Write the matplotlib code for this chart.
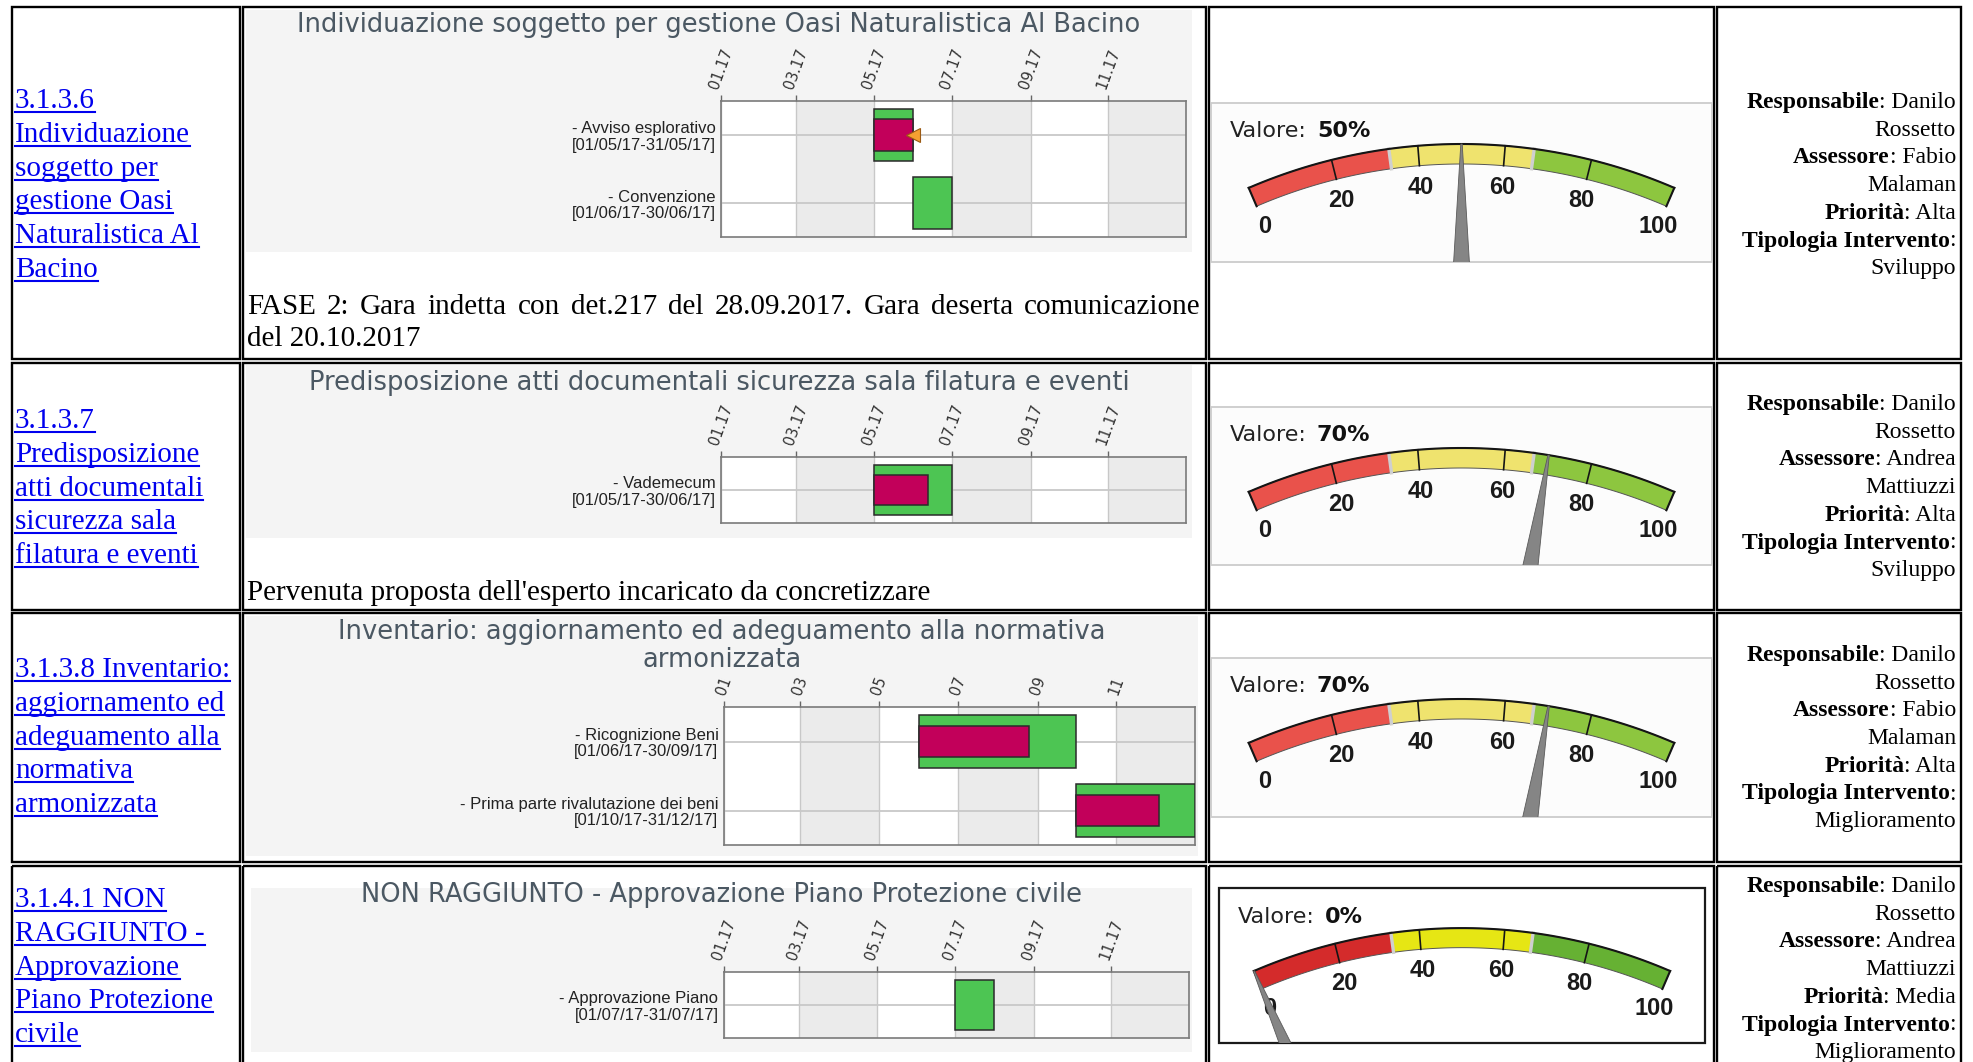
import datetime as dt
import matplotlib
matplotlib.use("Agg")
import matplotlib.pyplot as plt
import matplotlib.dates as mdates
from matplotlib.patches import Rectangle, Polygon
import numpy as np

# ---------------- data ----------------
link_lines = [
    ["3.1.3.6", "Individuazione", "soggetto per", "gestione Oasi", "Naturalistica Al", "Bacino"],
    ["3.1.3.7", "Predisposizione", "atti documentali", "sicurezza sala", "filatura e eventi"],
    ["3.1.3.8 Inventario:", "aggiornamento ed", "adeguamento alla", "normativa", "armonizzata"],
    ["3.1.4.1 NON", "RAGGIUNTO -", "Approvazione", "Piano Protezione", "civile"],
]
gantt_titles = [
    ["Individuazione soggetto per gestione Oasi Naturalistica Al Bacino"],
    ["Predisposizione atti documentali sicurezza sala filatura e eventi"],
    ["Inventario: aggiornamento ed adeguamento alla normativa", "armonizzata"],
    ["NON RAGGIUNTO - Approvazione Piano Protezione civile"],
]
task_names = [["Avviso esplorativo", "Convenzione"], ["Vademecum"],
              ["Ricognizione Beni", "Prima parte rivalutazione dei beni"], ["Approvazione Piano"]]
task_start = [["01/05/17", "01/06/17"], ["01/05/17"], ["01/06/17", "01/10/17"], ["01/07/17"]]
task_end = [["31/05/17", "30/06/17"], ["30/06/17"], ["30/09/17", "31/12/17"], ["31/07/17"]]
task_progress = [[100, 0], [70], [70, 70], [0]]
month_ticks = [1, 3, 5, 7, 9, 11]
tick_labels = [
    ["01.17", "03.17", "05.17", "07.17", "09.17", "11.17"],
    ["01.17", "03.17", "05.17", "07.17", "09.17", "11.17"],
    ["01", "03", "05", "07", "09", "11"],
    ["01.17", "03.17", "05.17", "07.17", "09.17", "11.17"],
]
notes = [
    ["FASE 2: Gara indetta con det.217 del 28.09.2017. Gara deserta comunicazione", "del 20.10.2017"],
    ["Pervenuta proposta dell'esperto incaricato da concretizzare"],
    [],
    [],
]
gauge_values = [50, 70, 70, 0]
gauge_ticks = [0, 20, 40, 60, 80, 100]
info = [
    [("Responsabile", ": Danilo"), ("", "Rossetto"), ("Assessore", ": Fabio"), ("", "Malaman"),
     ("Priorità", ": Alta"), ("Tipologia Intervento", ":"), ("", "Sviluppo")],
    [("Responsabile", ": Danilo"), ("", "Rossetto"), ("Assessore", ": Andrea"), ("", "Mattiuzzi"),
     ("Priorità", ": Alta"), ("Tipologia Intervento", ":"), ("", "Sviluppo")],
    [("Responsabile", ": Danilo"), ("", "Rossetto"), ("Assessore", ": Fabio"), ("", "Malaman"),
     ("Priorità", ": Alta"), ("Tipologia Intervento", ":"), ("", "Miglioramento")],
    [("Responsabile", ": Danilo"), ("", "Rossetto"), ("Assessore", ": Andrea"), ("", "Mattiuzzi"),
     ("Priorità", ": Media"), ("Tipologia Intervento", ":"), ("", "Miglioramento")],
]

# ---------------- layout (pixels) ----------------
W, H = 1973, 1062
cell_cols = [(12, 240), (243, 1206), (1209, 1714), (1717, 1961)]
cell_rows = [(7, 359), (363, 610), (613, 862), (866, 1075)]
gantt_panels = [(246, 10, 1192, 252), (246, 365, 1192, 538), (246, 616, 1198, 856), (251, 888, 1192, 1052)]
gantt_plots = [(721, 101, 1186, 237), (721, 457, 1186, 523), (724, 707, 1195, 845), (724, 972, 1189, 1038)]
title_y = [[25], [383], [632, 660], [895]]
gauge_panels = [(1211, 103, 1712, 262), (1211, 407, 1712, 565), (1211, 658, 1712, 817), (1219, 888, 1705, 1043)]
link_base = [108, 428, 677, 907]
info_base = [108, 410, 661, 892]
note_base = [[314, 346], [600], [], []]

SERIF = "Liberation Serif"
SANS = "Liberation Sans"
GREEN, MAGENTA = "#4dc553", "#c2005a"
LIGHT = ["#e9524b", "#efe36e", "#8dc63f"]
STRONG = ["#d42b2b", "#e6e614", "#66b133"]

fig = plt.figure(figsize=(W / 100, H / 100), dpi=100)
bg = fig.add_axes([0, 0, 1, 1])
bg.set_xlim(0, W)
bg.set_ylim(H, 0)
bg.axis("off")
renderer = fig.canvas.get_renderer()


def box(x0, y0, x1, y1):
    return [x0 / W, 1 - y1 / H, (x1 - x0) / W, (y1 - y0) / H]


def width_of(t):
    return t.get_window_extent(renderer).width


def to_date(s):
    d, m, y = s.split("/")
    return mdates.date2num(dt.date(2000 + int(y), int(m), int(d)))


# table cells
for (ry0, ry1) in cell_rows:
    for (cx0, cx1) in cell_cols:
        bg.add_patch(Rectangle((cx0, ry0), cx1 - cx0, ry1 - ry0, fill=False,
                               edgecolor="black", lw=1.7, clip_on=False))

# first column: links
for i, lines in enumerate(link_lines):
    for k, line in enumerate(lines):
        y = link_base[i] + k * 33.8
        t = bg.text(15, y, line, family=SERIF, fontsize=21, color="#0000ee", va="baseline")
        bg.plot([15, 15 + width_of(t)], [y + 4, y + 4], color="#0000ee", lw=1.5)

# last column: info
for i, lines in enumerate(info):
    for k, (bold, normal) in enumerate(lines):
        y = info_base[i] + k * 27.7
        t = bg.text(1956, y, normal, family=SERIF, fontsize=17, ha="right", va="baseline")
        if bold:
            bg.text(1956 - width_of(t), y, bold, family=SERIF, fontsize=17, weight="bold",
                    ha="right", va="baseline")

# notes under gantt
for i, lines in enumerate(notes):
    for k, line in enumerate(lines):
        y = note_base[i][k]
        if k < len(lines) - 1:
            words = line.split()
            ts = [bg.text(0, y, wd, family=SERIF, fontsize=21, va="baseline") for wd in words]
            ws = [width_of(t) for t in ts]
            gap = (1201 - 247 - sum(ws)) / (len(words) - 1)
            x = 247
            for t, wv in zip(ts, ws):
                t.set_x(x)
                x += wv + gap
        else:
            bg.text(247, y, line, family=SERIF, fontsize=21, va="baseline")

# gantt charts
probe = bg.text(0, -100, gantt_titles[0][0], fontsize=16)
title_size = 16 * 845 / width_of(probe)
probe.remove()

for i in range(4):
    px0, py0, px1, py1 = gantt_panels[i]
    bg.add_patch(Rectangle((px0, py0), px1 - px0, py1 - py0, facecolor="#f4f4f4", edgecolor="none"))
    for line, ty in zip(gantt_titles[i], title_y[i]):
        bg.text((px0 + px1) / 2, ty, line, fontsize=title_size, color="#4b5863",
                ha="center", va="center")

    ax = fig.add_axes(box(*gantt_plots[i]))
    ax.set_facecolor("white")
    ax.set_xlim(mdates.date2num(dt.date(2017, 1, 1)), mdates.date2num(dt.date(2018, 1, 1)))
    n = len(task_names[i])
    ax.set_ylim(n - 0.5, -0.5)
    for a, b in [(3, 5), (7, 9), (11, 13)]:
        d0 = mdates.date2num(dt.date(2017, a, 1))
        d1 = mdates.date2num(dt.date(2017 + (b - 1) // 12, (b - 1) % 12 + 1, 1))
        ax.axvspan(d0, d1, color="#ebebeb", zorder=0, lw=0)
    ax.set_xticks([mdates.date2num(dt.date(2017, m, 1)) for m in month_ticks])
    ax.set_xticklabels(tick_labels[i], rotation=70, fontsize=10.5, color="#333333")
    ax.xaxis.tick_top()
    ax.tick_params(axis="x", length=4.5, width=1, color="#666666", pad=3)
    ax.grid(axis="x", color="#c8c8c8", lw=1, zorder=1)
    ax.set_axisbelow(True)
    for y in range(n):
        ax.axhline(y, color="#c8c8c8", lw=1.3, zorder=1)
    labels = [f"- {nm}\n[{s}-{e}]" for nm, s, e in zip(task_names[i], task_start[i], task_end[i])]
    ax.set_yticks(range(n))
    ax.set_yticklabels(labels, family=SANS, fontsize=12, color="#222222", linespacing=1.1)
    for t in ax.get_yticklabels():
        t.set_multialignment("right")
    ax.tick_params(axis="y", length=0, pad=4)
    for sp in ax.spines.values():
        sp.set_color("#7a7a7a")
        sp.set_linewidth(1.2)
    for y, (s, e, p) in enumerate(zip(task_start[i], task_end[i], task_progress[i])):
        left = to_date(s)
        dur = to_date(e) + 1 - left
        ax.barh(y, dur, left=left, height=0.76, color=GREEN, edgecolor="#2b2b2b", lw=1.1, zorder=3)
        if p > 0:
            ax.barh(y, dur * p / 100, left=left, height=0.46, color=MAGENTA,
                    edgecolor="#2b2b2b", lw=1.1, zorder=4)
        if p >= 100:
            ax.plot(left + dur, y, marker="<", ms=10, color="#f5a031", mec="#9a5a14",
                    mew=0.8, zorder=5, clip_on=False)

# gauges
zones = [(0, 100 / 3), (100 / 3, 200 / 3), (200 / 3, 100)]
for i, val in enumerate(gauge_values):
    x0, y0, x1, y1 = gauge_panels[i]
    w, h = x1 - x0, y1 - y0
    strong = i == 3
    bg.add_patch(Rectangle((x0, y0), w, h, facecolor="white" if strong else "#fcfcfc",
                           edgecolor="#1a1a1a" if strong else "#cccccc", lw=1.6 if strong else 1.3))
    ax = fig.add_axes(box(x0, y0, x1, y1))
    ax.set_xlim(0, w)
    ax.set_ylim(h, 0)
    ax.axis("off")
    s = 0.978 if strong else 1.0
    R, band = 538 * s, 20 * s
    cx, cy = w / 2, 41 * s + R
    span = 23.3

    def pt(v, r):
        th = np.radians(-span + 2 * span * v / 100)
        return np.array([cx + r * np.sin(th), cy - r * np.cos(th)])

    def arc(v0, v1, r):
        return np.array([pt(v, r) for v in np.linspace(v0, v1, 60)])

    cols = STRONG if strong else LIGHT
    for (v0, v1), c in zip(zones, cols):
        poly = np.vstack([arc(v0, v1, R), arc(v1, v0, R - band)])
        ax.add_patch(Polygon(poly, closed=True, facecolor=c, edgecolor="#555555", lw=0.7, zorder=2))
    for v in (100 / 3, 200 / 3):
        seg = np.array([pt(v, R - band), pt(v, R)])
        ax.plot(seg[:, 0], seg[:, 1], color="#cfcfcf", lw=2.4, zorder=3)
    outer = arc(0, 100, R)
    ax.plot(outer[:, 0], outer[:, 1], color="#151515", lw=1.5, zorder=4)
    for v in (0, 100):
        seg = np.array([pt(v, R - band), pt(v, R)])
        ax.plot(seg[:, 0], seg[:, 1], color="#151515", lw=1.5, zorder=4)
    for v in (20, 40, 60, 80):
        seg = np.array([pt(v, R - band), pt(v, R)])
        ax.plot(seg[:, 0], seg[:, 1], color="#151515", lw=1.2, zorder=4)
    for v in gauge_ticks:
        lx, ly = pt(v, 498 * s)
        ax.text(lx, ly + 2, str(v), family=SANS, weight="bold", fontsize=17, color="#1a1a1a",
                ha="center", va="center")
    # needle
    tip = pt(val, R)
    base = pt(val, R - 320)
    d = (tip - base) / np.linalg.norm(tip - base)
    nrm = np.array([-d[1], d[0]])
    hw = 0.063 * 320
    needle = [tip + nrm * 0.7, tip - nrm * 0.7, base - nrm * hw, base + nrm * hw]
    ax.add_patch(Polygon(needle, closed=True, facecolor="#858585", edgecolor="#5a5a5a",
                         lw=0.6, zorder=5))
    t = ax.text(19, 29 if strong else 28, "Valore:", fontsize=16, color="#222222", va="center")
    ax.text(19 + width_of(t) + 10, 29 if strong else 28, f"{val}%", fontsize=16, weight="bold",
            color="#111111", va="center")

fig.savefig("out.png", dpi=100)
